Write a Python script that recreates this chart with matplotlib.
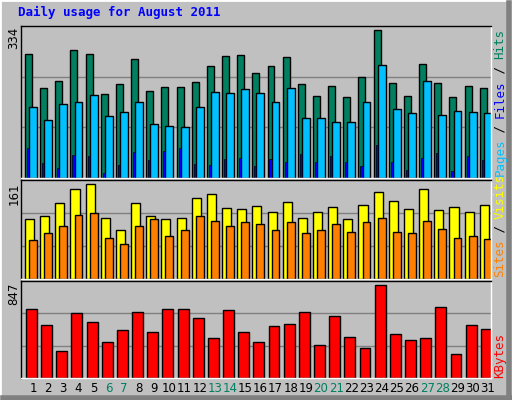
import matplotlib
matplotlib.use("Agg")
import matplotlib.pyplot as plt
from matplotlib.patches import Rectangle
import numpy as np

days = list(range(1, 32))
weekends = [6, 7, 13, 14, 20, 21, 27, 28]
hits = [273,197,213,282,273,184,206,262,191,200,200,211,246,269,271,231,246,266,206,180,202,177,222,326,208,180,251,208,177,202,197]
files = [155,128,162,168,182,137,146,168,119,115,113,155,188,186,195,186,166,197,131,131,124,124,168,249,151,142,213,139,148,144,142]
pages = [67,33,22,51,49,11,29,58,40,60,65,31,29,42,45,27,42,36,53,36,49,36,27,73,36,18,45,56,16,49,40]
visits = [97,102,124,146,154,99,80,124,102,97,99,131,138,116,114,119,109,126,99,109,117,97,121,141,127,114,146,112,117,109,121]
sites = [64,75,87,104,107,67,57,86,97,70,80,102,94,86,92,89,79,92,75,80,89,77,92,99,77,74,94,82,67,70,65]
kbytes = [601,466,233,565,493,314,422,574,404,601,601,520,350,592,404,314,457,475,574,287,538,359,260,816,386,332,350,619,206,466,431]
max_hits, max_visits, max_kb = 334, 161, 847

BG = "#C0C0C0"
GREEN = "#008060"; CYAN = "#00C0FF"; BLUE = "#0000FF"
YEL = "#FFFF00"; ORA = "#FF8000"; RED = "#FF0000"

W, H = 512, 400
fig = plt.figure(figsize=(W/100, H/100), dpi=100, facecolor=BG)

def ax_px(x0, y0, x1, y1):
    return fig.add_axes([x0/W, 1-y1/H, (x1-x0)/W, (y1-y0)/H])

# 3D frame
fig.patches.append(Rectangle((0, 0), 1, 1, transform=fig.transFigure, fill=False, ec="white", lw=2))
fig.add_artist(plt.Line2D([1-3/W, 1-3/W], [0, 1-3/H], color="#808080", lw=4, transform=fig.transFigure))
fig.add_artist(plt.Line2D([3/W, 1], [2/H, 2/H], color="#808080", lw=4, transform=fig.transFigure))

x = np.array(days, dtype=float)
xl = (0.21, 31.21)

def setup(ax, ymax):
    ax.set_facecolor(BG)
    ax.set_xlim(*xl)
    ax.set_ylim(0, ymax * 1.0)
    for v in (ymax/3, 2*ymax/3):
        ax.axhline(v, color="#808080", lw=1, zorder=0)
    ax.set_xticks([]); ax.set_yticks([])
    for s in ax.spines.values():
        s.set_color("black"); s.set_linewidth(1)
    ax.spines["bottom"].set_color("white"); ax.spines["right"].set_color("white")

kw = dict(edgecolor="black", linewidth=1, align="edge")
ax1 = ax_px(21, 26, 491, 178)
setup(ax1, max_hits)
ax1.bar(x-0.53, hits, width=0.46, color=GREEN, **kw)
ax1.bar(x-0.26, files, width=0.52, color=CYAN, **kw)
ax1.bar(x-0.40, pages, width=0.14, color=BLUE, edgecolor="black", linewidth=0.5, align="edge")

ax2 = ax_px(21, 180, 491, 279)
setup(ax2, max_visits)
ax2.bar(x-0.53, visits, width=0.6, color=YEL, **kw)
ax2.bar(x-0.26, sites, width=0.52, color=ORA, **kw)

ax3 = ax_px(21, 281, 491, 378)
setup(ax3, max_kb)
ax3.bar(x-0.46, kbytes, width=0.72, color=RED, **kw)

for d in days:
    fig.text((21 + (d - xl[0]) / (xl[1]-xl[0]) * 470) / W, 1-389/H, str(d),
             ha="center", va="center", fontsize=8.5, family="DejaVu Sans",
             color=GREEN if d in weekends else "black")

fig.text(18/W, 1-12/H, "Daily usage for August 2011", ha="left", va="center",
         family="DejaVu Sans Mono", fontweight="bold", fontsize=9, color=BLUE)

for val, ytop in ((max_hits, 27), (max_visits, 182), (max_kb, 283)):
    fig.text(14/W, 1-ytop/H, str(val), rotation=90, ha="center", va="top",
             fontsize=8.5, family="DejaVu Sans")

def vlabel(parts, ybottom):
    cw = 7.3
    pos = 0
    for txt, col in parts:
        fig.text(500/W, 1-(ybottom - pos*cw)/H, txt, rotation=90, rotation_mode="anchor",
                 ha="left", va="center", family="DejaVu Sans Mono", fontsize=9, color=col)
        pos += len(txt)

vlabel([("Pages", CYAN), (" / ", "black"), ("Files", BLUE), (" / ", "black"), ("Hits", GREEN)], 176)
vlabel([("Sites", ORA), (" / ", "black"), ("Visits", YEL)], 277)
vlabel([("KBytes", RED)], 378)

fig.savefig("out.png", dpi=100, facecolor=BG)
